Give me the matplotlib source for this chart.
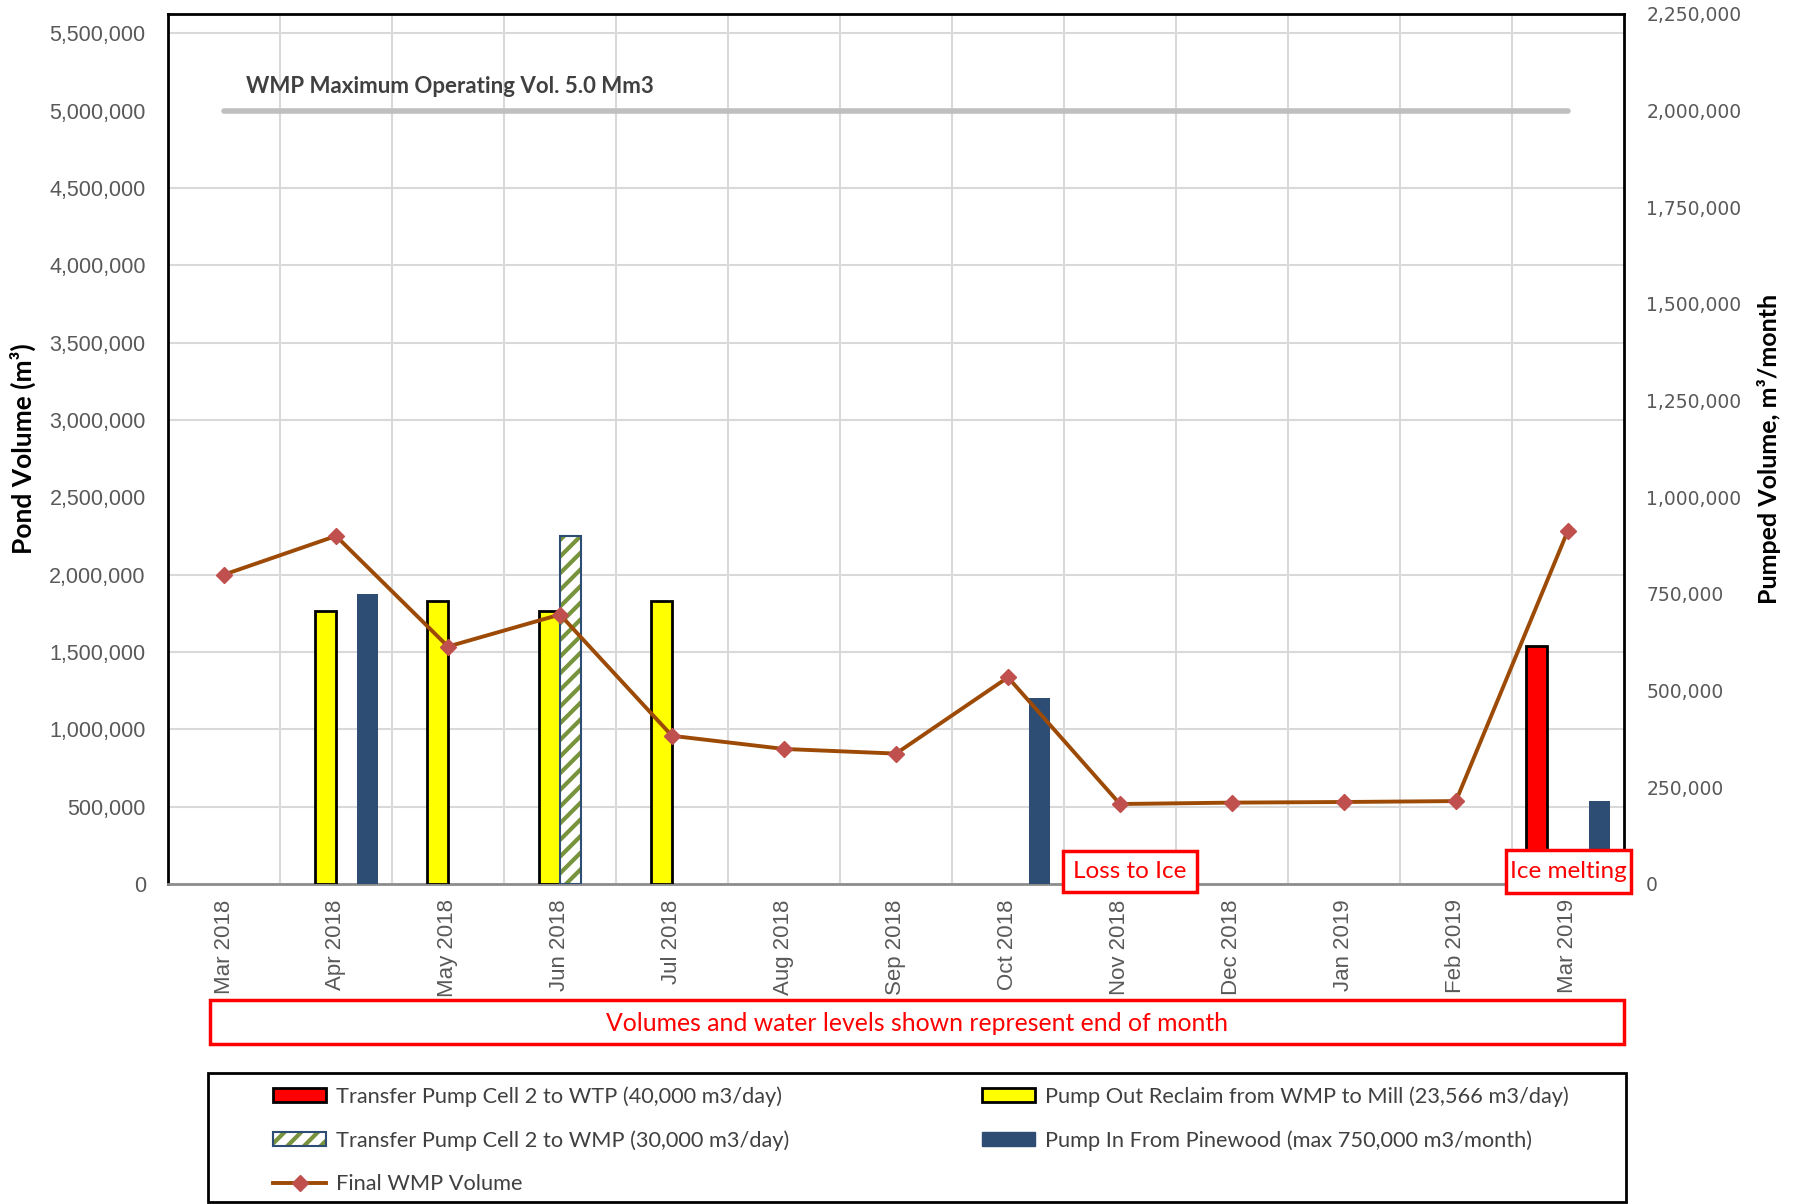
import numpy as np
import matplotlib.pyplot as plt
from matplotlib.patches import Rectangle, Patch
from matplotlib.lines import Line2D
from matplotlib.ticker import MultipleLocator, FuncFormatter

months = ['Mar 2018', 'Apr 2018', 'May 2018', 'Jun 2018', 'Jul 2018', 'Aug 2018',
          'Sep 2018', 'Oct 2018', 'Nov 2018', 'Dec 2018', 'Jan 2019', 'Feb 2019',
          'Mar 2019']

# pumped volumes per month, m3/month (right axis)
wtp_transfer = [0, 0, 0, 0, 0, 0, 0, 0, 0, 0, 0, 0, 615000]
reclaim_to_mill = [0, 706980, 730546, 706980, 730546, 0, 0, 0, 0, 0, 0, 0, 0]
cell2_to_wmp = [0, 0, 0, 900000, 0, 0, 0, 0, 0, 0, 0, 0, 0]
pinewood_in = [0, 750000, 0, 0, 0, 0, 0, 480000, 0, 0, 0, 0, 215000]

# end of month pond volume, m3 (left axis)
final_volume = [2000000, 2250000, 1535000, 1742000, 958000, 873000, 843000,
                1336000, 517000, 526000, 530000, 536000, 2285000]
max_operating = 5000000

labels = ['Transfer Pump Cell 2 to WTP (40,000 m3/day)',
          'Pump Out Reclaim from WMP to Mill (23,566 m3/day)',
          'Transfer Pump Cell 2 to WMP (30,000 m3/day)',
          'Pump In From Pinewood (max 750,000 m3/month)',
          'Final WMP Volume']

RED = '#FF0000'
YELLOW = '#FFFF00'
NAVY = '#2D4D75'
HATCH_GREEN = '#77933C'
LINE_BROWN = '#9C4A06'
MARKER_RED = '#C0504D'
GRID = '#D9D9D9'
TICK_GREY = '#595959'

plt.rcParams['hatch.linewidth'] = 3.0

fig = plt.figure(figsize=(17.93, 12.04), dpi=100)
ax = fig.add_axes([0.0937, 0.2658, 0.8120, 0.7226])   # bars, pumped volume
ax2 = ax.twinx()                                       # line, pond volume

x = np.arange(len(months))
w = 0.1875


def draw_bars(vals, slot, **kw):
    vals = np.asarray(vals, dtype=float)
    m = vals > 0
    return ax.bar(x[m] + (slot - 1.5) * w, vals[m], width=w, **kw)


draw_bars(wtp_transfer, 0, color=RED, edgecolor='black', linewidth=2, zorder=3)
draw_bars(reclaim_to_mill, 1, color=YELLOW, edgecolor='black', linewidth=2, zorder=3)
draw_bars(cell2_to_wmp, 2, color='white', edgecolor=HATCH_GREEN, hatch='//',
          linewidth=0, zorder=3)
draw_bars(cell2_to_wmp, 2, fill=False, edgecolor=NAVY, linewidth=1.5, zorder=4)
draw_bars(pinewood_in, 3, color=NAVY, linewidth=0, zorder=3)

ax.set_xlim(-0.5, len(months) - 0.5)
ax.set_ylim(0, 2250000)
ax2.set_ylim(0, 5625000)

# pond volume line and operating limit
ax2.plot(x, [max_operating] * len(months), color='#BFBFBF', lw=4,
         solid_capstyle='round', zorder=2)
ax2.text(0.2, 5158000, 'WMP Maximum Operating Vol. 5.0 Mm3', family='Lato',
         fontweight='bold', fontsize=16, color='#404040', va='center')
ax2.plot(x, final_volume, color=LINE_BROWN, lw=2.8, marker='D', ms=8.5,
         mfc=MARKER_RED, mec=MARKER_RED, zorder=5)

# axes sides: bars on the right scale, pond volume on the left
ax.yaxis.tick_right()
ax.yaxis.set_label_position('right')
ax2.yaxis.tick_left()
ax2.yaxis.set_label_position('left')

fmt = FuncFormatter(lambda v, p: f'{v:,.0f}')
ax.yaxis.set_major_locator(MultipleLocator(250000))
ax.yaxis.set_major_formatter(fmt)
ax2.yaxis.set_major_locator(MultipleLocator(500000))
ax2.yaxis.set_major_formatter(fmt)

# gridlines sit under the bars: left-axis steps of 500k equal 200k on the right
ax.yaxis.set_minor_locator(MultipleLocator(200000))
ax.set_xticks(x[:-1] + 0.5, minor=True)
ax.grid(which='minor', color=GRID, lw=1.5)
ax.set_axisbelow(True)

ax.set_xticks(x)
ax.set_xticklabels(months, rotation=90, family='Liberation Sans', fontsize=16,
                   color=TICK_GREY)
ax.tick_params(which='both', length=0)
ax.tick_params(axis='x', pad=11)
ax.tick_params(axis='y', pad=16, labelsize=13.5, labelcolor=TICK_GREY)
ax2.tick_params(which='both', length=0)
ax2.tick_params(axis='y', pad=16, labelsize=15.5, labelcolor=TICK_GREY)
for t in ax2.get_yticklabels():
    t.set_family('Liberation Sans')

ax2.set_ylabel('Pond Volume (m³)', family='Lato', fontweight='bold', fontsize=19)
ax.set_ylabel('Pumped Volume, m³/month', family='Lato', fontweight='bold',
              fontsize=18)
ax2.yaxis.set_label_coords(-0.091, 0.5)
ax.yaxis.set_label_coords(1.0917, 0.5)

for s in ['left', 'right', 'top']:
    ax.spines[s].set_color('black')
    ax.spines[s].set_linewidth(2)
ax.spines['bottom'].set_color('#8C8C8C')
ax.spines['bottom'].set_linewidth(2)
for s in ax2.spines.values():
    s.set_visible(False)

# notes
tr = ax.get_xaxis_transform()
note = dict(boxstyle='square,pad=0.42', facecolor='white', edgecolor=RED, lw=2.5)
ax.text(8.09, 0.0144, 'Loss to Ice', transform=tr, ha='center', va='center',
        family='Lato', fontsize=17.5, color=RED, bbox=note, clip_on=False, zorder=10)
ax.add_patch(Rectangle((11.446, -0.0103), 1.114, 0.0494, transform=tr,
                       facecolor='white', edgecolor=RED, lw=2.5, clip_on=False,
                       zorder=10))
ax.text(12.0, 0.0144, 'Ice melting', transform=tr, ha='center', va='center',
        family='Lato', fontsize=17.5, color=RED, clip_on=False, zorder=11)

fig.patches.append(Rectangle((0.1171, 0.1329), 0.7886, 0.0365, transform=fig.transFigure,
                             fill=False, edgecolor=RED, lw=2.5))
fig.text(0.5114, 0.1503, 'Volumes and water levels shown represent end of month',
         ha='center', va='center', family='Lato', fontsize=17.8, color=RED)

# legend
h_red = Patch(facecolor=RED, edgecolor='black', lw=2)
h_yel = Patch(facecolor=YELLOW, edgecolor='black', lw=2)
h_hatch = (Patch(facecolor='white', edgecolor=HATCH_GREEN, hatch='//', lw=0),
           Patch(fill=False, edgecolor=NAVY, lw=1.5))
h_navy = Patch(facecolor=NAVY, edgecolor=NAVY)
h_line = Line2D([], [], color=LINE_BROWN, lw=2.8, marker='D', ms=8.5,
                mfc=MARKER_RED, mec=MARKER_RED)

leg_kw = dict(loc='upper left', frameon=False, borderpad=0, borderaxespad=0,
              prop={'family': 'Lato', 'size': 15.7}, labelcolor='#404040',
              handlelength=2.45, handleheight=0.65, handletextpad=0.42,
              labelspacing=1.07)
fig.legend([h_red, h_hatch, h_line], [labels[0], labels[2], labels[4]],
           bbox_to_anchor=(0.1523, 0.0978), **leg_kw)
fig.legend([h_yel, h_navy], [labels[1], labels[3]],
           bbox_to_anchor=(0.5477, 0.0978), **leg_kw)
fig.patches.append(Rectangle((0.116, 0.0017), 0.7909, 0.1071, transform=fig.transFigure,
                             fill=False, edgecolor='black', lw=2))

fig.savefig('out.png', dpi=100)
